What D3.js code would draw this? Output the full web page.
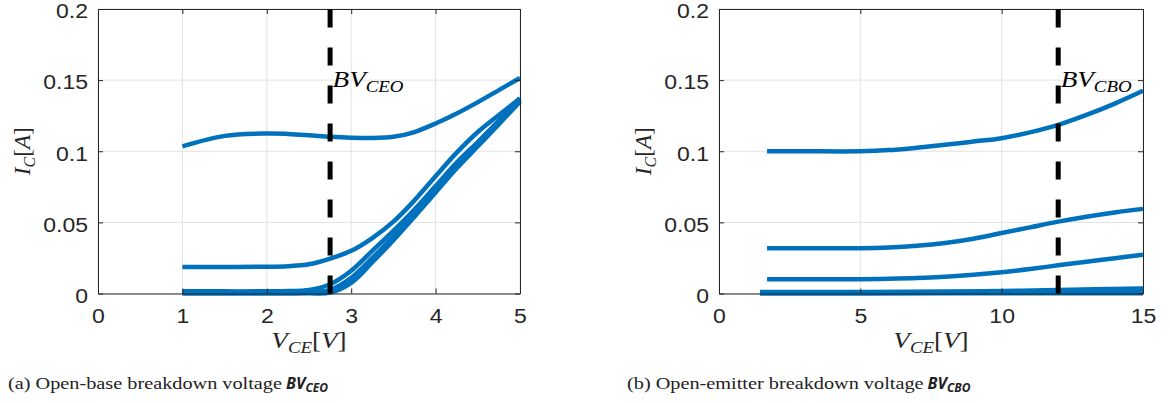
<!DOCTYPE html>
<html>
<head>
<meta charset="utf-8">
<script src="https://cdn.jsdelivr.net/npm/d3@7"></script>
<style>
  html, body { margin: 0; padding: 0; background: #fff; }
  svg { display: block; }
</style>
</head>
<body>
<svg id="chart" width="1170" height="403"></svg>
<script>
// ---- tick values ----
const xTicksCEO = [0, 1, 2, 3, 4, 5];
const xTicksCBO = [0, 5, 10, 15];
const yTicks = [0, 0.05, 0.1, 0.15, 0.2];

// ---- (a) open-base sweep: collector current vs V_CE ----
const vceA = [1, 1.5, 2, 2.25, 2.5, 2.75, 3, 3.25, 3.5, 3.75, 4, 4.25, 4.5, 4.75, 5];
const ceoTop  = [0.1034, 0.1108, 0.1125, 0.1122, 0.1113, 0.1102, 0.1095, 0.1093, 0.1102, 0.1135, 0.1195, 0.1265, 0.1345, 0.1430, 0.1515];
const ceoMid  = [0.0187, 0.0187, 0.0188, 0.0192, 0.0205, 0.0245, 0.0300, 0.0390, 0.0505, 0.0655, 0.0825, 0.0990, 0.1135, 0.1255, 0.1370];
const ceoLow1 = [0.0015, 0.0015, 0.0015, 0.0017, 0.0025, 0.0065, 0.0160, 0.0300, 0.0440, 0.0590, 0.0755, 0.0920, 0.1065, 0.1215, 0.1375];
const ceoLow2 = [0.0005, 0.0005, 0.0005, 0.0006, 0.0009, 0.0025, 0.0110, 0.0250, 0.0400, 0.0560, 0.0730, 0.0900, 0.1050, 0.1205, 0.1358];
const ceoLow3 = [0.0000, 0.0000, 0.0000, 0.0000, 0.0001, 0.0006, 0.0075, 0.0220, 0.0375, 0.0540, 0.0710, 0.0880, 0.1035, 0.1190, 0.1348];
const bvCEO = 2.75;

// ---- (b) open-emitter sweep ----
const vceB = [1.7, 3, 5, 6, 7, 8, 9, 10, 11, 12, 13, 14, 15];
const cboTop = [0.1000, 0.1000, 0.1000, 0.1008, 0.1025, 0.1045, 0.1068, 0.1092, 0.1133, 0.1185, 0.1255, 0.1335, 0.1425];
const cboMid = [0.0318, 0.0318, 0.0318, 0.0323, 0.0335, 0.0355, 0.0385, 0.0425, 0.0465, 0.0505, 0.0540, 0.0570, 0.0595];
const cboLow = [0.0101, 0.0101, 0.0101, 0.0104, 0.0109, 0.0118, 0.0131, 0.0149, 0.0172, 0.0198, 0.0223, 0.0248, 0.0272];
const vceFloor = [1.45, 5, 8, 10, 12, 15];
const cboFloor1 = [0.0000, 0.0000, 0.0001, 0.0001, 0.0001, 0.0002];
const cboFloor2 = [0.0005, 0.0006, 0.0008, 0.0010, 0.0013, 0.0020];
const cboFloor3 = [0.0010, 0.0011, 0.0014, 0.0018, 0.0025, 0.0036];
const bvCBO = 12;

const BLUE = "#0072BD";
const AXIS = "#262626";
const GRID = "#e2e2e2";
const TICK_FONT = "'Liberation Sans', Arial, Helvetica, sans-serif";
const MATH_FONT = "'Liberation Serif', 'Times New Roman', serif";
const TICK_STRETCH = 1.18;
const MATH_STRETCH = 1.18;

const svg = d3.select("#chart");
const plotTop = 9, plotBottom = 293.5;

// italic math-style label: main symbol, subscript, then a bracketed unit
function mathLabel(parent, main, sub, unit, size, subSize, fill) {
  const t = parent.append("text")
    .attr("font-family", MATH_FONT).attr("font-size", size).attr("fill", fill);
  t.append("tspan").attr("font-style", "italic").text(main);
  t.append("tspan").attr("font-style", "italic").attr("font-size", subSize).attr("dy", 4.5).text(sub);
  if (unit) {
    t.append("tspan").attr("dy", -4.5).text("[");
    t.append("tspan").attr("font-style", "italic").text(unit);
    t.append("tspan").text("]");
  }
  return t;
}

function drawPanel(cfg) {
  const x = d3.scaleLinear().domain(cfg.xDomain).range([cfg.left, cfg.right]);
  const y = d3.scaleLinear().domain([0, 0.2]).range([plotBottom, plotTop]);
  const g = svg.append("g");

  // grid
  g.append("g").selectAll("line").data(cfg.xTicks).join("line")
    .attr("x1", d => x(d)).attr("x2", d => x(d))
    .attr("y1", plotTop).attr("y2", plotBottom)
    .attr("stroke", GRID).attr("stroke-width", 1);
  g.append("g").selectAll("line").data(yTicks).join("line")
    .attr("x1", cfg.left).attr("x2", cfg.right)
    .attr("y1", d => y(d)).attr("y2", d => y(d))
    .attr("stroke", GRID).attr("stroke-width", 1);

  // curves
  const line = d3.line().x(d => x(d[0])).y(d => y(d[1])).curve(d3.curveCatmullRom.alpha(0.5));
  g.append("g").selectAll("path").data(cfg.series).join("path")
    .attr("d", s => line(d3.zip(s.x, s.y)))
    .attr("fill", "none")
    .attr("stroke", BLUE)
    .attr("stroke-width", 4.5)
    .attr("stroke-linejoin", "round");

  // axes (box with inward ticks)
  const styleAxis = sel => {
    sel.select(".domain").attr("stroke", AXIS).attr("stroke-width", 1);
    sel.selectAll(".tick line").attr("stroke", AXIS);
    sel.selectAll(".tick text")
      .attr("fill", AXIS)
      .attr("font-family", TICK_FONT)
      .attr("font-size", 19.5);
  };
  const fmt = d => d3.format("")(d);
  const bx = g.append("g").attr("transform", `translate(0,${plotBottom})`)
    .call(d3.axisBottom(x).tickValues(cfg.xTicks).tickSize(-5).tickSizeOuter(0).tickPadding(16).tickFormat(fmt));
  const ly = g.append("g").attr("transform", `translate(${cfg.left},0)`)
    .call(d3.axisLeft(y).tickValues(yTicks).tickSize(-5).tickSizeOuter(0).tickPadding(10).tickFormat(fmt));
  const tx = g.append("g").attr("transform", `translate(0,${plotTop})`)
    .call(d3.axisTop(x).tickValues(cfg.xTicks).tickSize(-5).tickSizeOuter(0).tickFormat(""));
  const ry = g.append("g").attr("transform", `translate(${cfg.right},0)`)
    .call(d3.axisRight(y).tickValues(yTicks).tickSize(-5).tickSizeOuter(0).tickFormat(""));
  [bx, ly, tx, ry].forEach(styleAxis);
  ly.selectAll(".tick text").attr("dy", "0.45em");
  [bx, ly].forEach(a => a.selectAll(".tick text").each(function () {
    const t = d3.select(this);
    const x0 = +(t.attr("x") || 0);
    t.attr("x", x0 / TICK_STRETCH).attr("transform", `scale(${TICK_STRETCH},1)`);
  }));

  // breakdown marker
  g.append("line")
    .attr("x1", x(cfg.bv)).attr("x2", x(cfg.bv))
    .attr("y1", y(0)).attr("y2", y(0.2))
    .attr("stroke", "#000").attr("stroke-width", 5)
    .attr("stroke-dasharray", "18,20");

  const bvG = g.append("g")
    .attr("transform", `translate(${x(cfg.bv) + 2.5},${y(0.15) + 7}) scale(${MATH_STRETCH},1)`);
  mathLabel(bvG, "BV", cfg.bvSub, null, 23, 16, "#000");

  // axis titles
  const xlG = g.append("g")
    .attr("transform", `translate(${(cfg.left + cfg.right) / 2},348) scale(${MATH_STRETCH},1)`);
  mathLabel(xlG, "V", "CE", "V", 23, 16, AXIS).attr("text-anchor", "middle");

  const ylG = g.append("g")
    .attr("transform", `translate(${cfg.left - 68},${(plotTop + plotBottom) / 2}) rotate(-90)`);
  mathLabel(ylG, "I", "C", "A", 23, 16, AXIS).attr("text-anchor", "middle");
}

drawPanel({
  left: 98, right: 520, xDomain: [0, 5], xTicks: xTicksCEO,
  bv: bvCEO, bvSub: "CEO",
  series: [
    { x: vceA, y: ceoTop }, { x: vceA, y: ceoMid },
    { x: vceA, y: ceoLow1 }, { x: vceA, y: ceoLow2 }, { x: vceA, y: ceoLow3 }
  ]
});

drawPanel({
  left: 719, right: 1143, xDomain: [0, 15], xTicks: xTicksCBO,
  bv: bvCBO, bvSub: "CBO",
  series: [
    { x: vceB, y: cboTop }, { x: vceB, y: cboMid }, { x: vceB, y: cboLow },
    { x: vceFloor, y: cboFloor1 }, { x: vceFloor, y: cboFloor2 }, { x: vceFloor, y: cboFloor3 }
  ]
});

// ---- sub-figure captions ----
const captions = [
  { x: 8, text: "(a) Open-base breakdown voltage", sub: "CEO" },
  { x: 627, text: "(b) Open-emitter breakdown voltage", sub: "CBO" }
];
const capY = 389;
const capNodes = captions.map(c => svg.append("text")
  .attr("x", c.x).attr("y", capY)
  .attr("font-family", "'Liberation Serif', 'Times New Roman', serif")
  .attr("font-size", 16).attr("fill", "#222")
  .text(c.text));
// widen the serif run to Computer Modern proportions
const natural = capNodes[0].node().getComputedTextLength();
const stretch = 274 / natural;
capNodes.forEach((n, i) => {
  const w = n.node().getComputedTextLength() * stretch;
  n.attr("textLength", w).attr("lengthAdjust", "spacingAndGlyphs");
  const t = svg.append("text")
    .attr("x", captions[i].x + w + 4).attr("y", capY)
    .attr("font-family", "'Noto Sans', 'Open Sans', sans-serif")
    .attr("font-weight", "bold").attr("font-style", "italic")
    .attr("font-size", 16).attr("fill", "#222");
  t.append("tspan").text("BV");
  t.append("tspan").attr("font-size", 12).attr("dy", 3).text(captions[i].sub);
});
</script>
</body>
</html>
